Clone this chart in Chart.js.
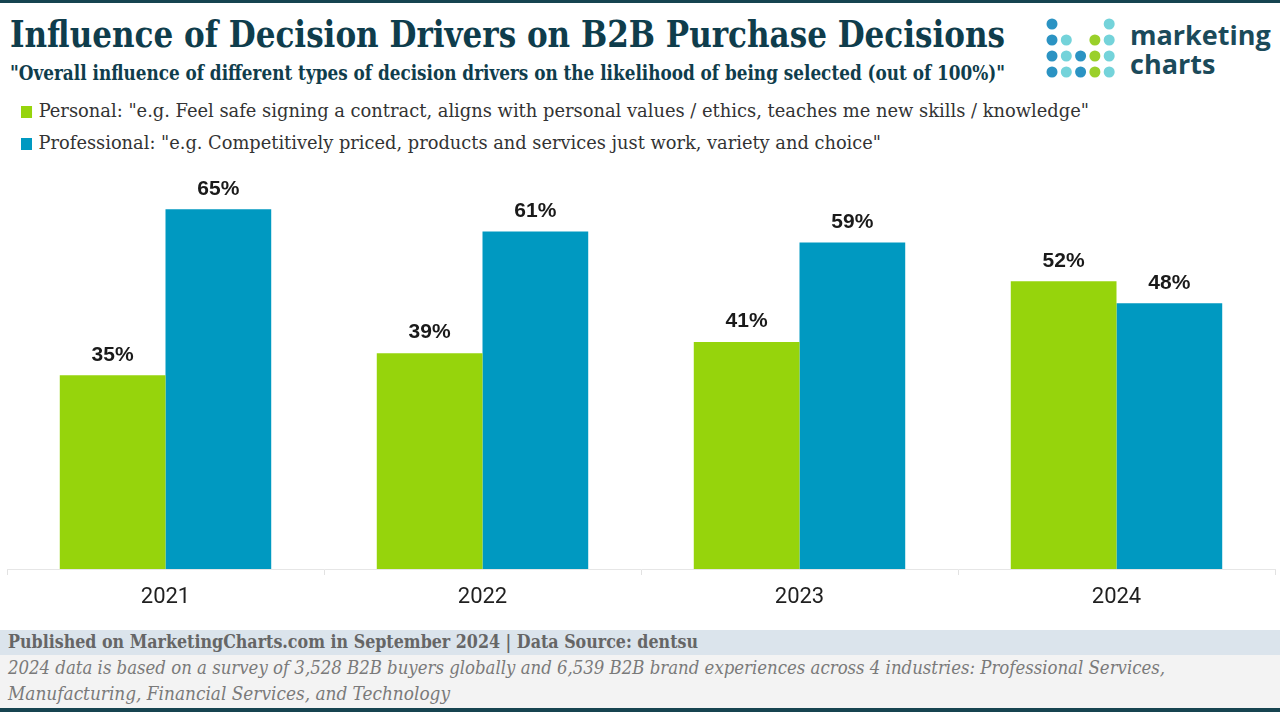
<!DOCTYPE html>
<html>
<head>
<meta charset="utf-8">
<script src="https://cdn.jsdelivr.net/npm/chart.js@4/dist/chart.umd.min.js"></script>
<style>
  body { margin: 0; background: #fff; }
  #page { position: relative; width: 1280px; height: 712px; overflow: hidden; background: #fff; }
  .topline { position: absolute; left: 0; top: 0; width: 1280px; height: 3px; background: #164450; }
  .botline { position: absolute; left: 0; top: 708px; width: 1280px; height: 4px; background: #164450; }
  .fit { position: absolute; white-space: nowrap; transform-origin: 0 0; }
  #title { left: 10px; top: 12px; font: bold 37px "DejaVu Serif Condensed", "DejaVu Serif", serif; color: #0f3d4c; }
  #subtitle { left: 10px; top: 61px; font: bold 20px "DejaVu Serif Condensed", "DejaVu Serif", serif; color: #0f3d4c; }
  .leg { position: absolute; left: 21px; font: 18px "DejaVu Serif Condensed", "DejaVu Serif", serif; color: #333; white-space: nowrap; }
  .leg i { display: inline-block; width: 10px; height: 12px; margin-right: 6px; vertical-align: -1px; }
  #chartBox { position: absolute; left: 0; top: 165px; width: 1280px; height: 450px; }
  .foot1 { position: absolute; left: 0; top: 630px; width: 1280px; height: 25px; background: #dbe4ec; }
  .foot2 { position: absolute; left: 0; top: 655px; width: 1280px; height: 53px; background: #f3f3f3; }
  #pub { left: 8px; top: 631px; font: bold 18px "DejaVu Serif Condensed", "DejaVu Serif", serif; color: #666; }
  #note1 { left: 8px; top: 657px; font: italic 18px "DejaVu Serif Condensed", "DejaVu Serif", serif; color: #7a7a7a; }
  #note2 { left: 8px; top: 683px; font: italic 18px "DejaVu Serif Condensed", "DejaVu Serif", serif; color: #7a7a7a; }
  #logo { position: absolute; left: 1040px; top: 10px; }
</style>
</head>
<body>
<div id="page">
  <div class="topline"></div>
  <div id="title" class="fit" data-w="995">Influence of Decision Drivers on B2B Purchase Decisions</div>
  <div id="subtitle" class="fit" data-w="995">"Overall influence of different types of decision drivers on the likelihood of being selected (out of 100%)"</div>
  <div id="leg1" class="leg fit" style="top:100px" data-w="1068"></div>
  <div id="leg2" class="leg fit" style="top:132px" data-w="860"></div>

  <svg id="logo" width="240" height="75">
    <g id="dots"></g>
    <text x="90" y="35" font-family="Open Sans, DejaVu Sans, sans-serif" font-weight="bold" font-size="27" fill="#1b4a5a">marketing</text>
    <text x="90" y="64" font-family="Open Sans, DejaVu Sans, sans-serif" font-weight="bold" font-size="27" fill="#1b4a5a">charts</text>
  </svg>

  <div id="chartBox"><canvas id="B2B_Chart"></canvas></div>

  <div class="foot1"></div>
  <div class="foot2"></div>
  <div id="pub" class="fit" data-w="690">Published on MarketingCharts.com in September 2024 | Data Source: dentsu</div>
  <div id="note1" class="fit" data-w="1157">2024 data is based on a survey of 3,528 B2B buyers globally and 6,539 B2B brand experiences across 4 industries: Professional Services,</div>
  <div id="note2" class="fit" data-w="442">Manufacturing, Financial Services, and Technology</div>
  <div class="botline"></div>
</div>

<script>
// data
const years = ["2021", "2022", "2023", "2024"];
const personal = [35, 39, 41, 52];
const professional = [65, 61, 59, 48];
const seriesNames = [
    'Personal: "e.g. Feel safe signing a contract, aligns with personal values / ethics, teaches me new skills / knowledge"',
    'Professional: "e.g. Competitively priced, products and services just work, variety and choice"'
];
const colors = ["#96d40c", "#0099c1"];

// legend (html)
document.getElementById("leg1").innerHTML = '<i style="background:' + colors[0] + '"></i>' + seriesNames[0];
document.getElementById("leg2").innerHTML = '<i style="background:' + colors[1] + '"></i>' + seriesNames[1];

// squeeze header/footer text to the widths in the picture
document.querySelectorAll(".fit").forEach(el => {
    const target = +el.dataset.w;
    const w = el.getBoundingClientRect().width;
    if (target && w) el.style.transform = "scaleX(" + (target / w) + ")";
});

// logo dots
const dotRows = [
    ["b", "", "", "", "t"],
    ["b", "t", "", "g", "t"],
    ["b", "t", "b", "g", "t"],
    ["b", "t", "b", "g", "t"]
];
const dotCol = { b: "#2b93c3", t: "#74d3da", g: "#9ad02a" };
let svgDots = "";
dotRows.forEach((row, r) => row.forEach((c, k) => {
    if (c) svgDots += '<circle cx="' + (12 + k * 14.3) + '" cy="' + (14 + r * 16) + '" r="5.5" fill="' + dotCol[c] + '"/>';
}));
document.getElementById("dots").innerHTML = svgDots;

// value labels above bars
const barLabels = {
    id: "barLabels",
    afterDatasetsDraw(chart) {
        const ctx = chart.ctx;
        ctx.save();
        ctx.font = "bold 21px 'Liberation Sans', Arial, sans-serif";
        ctx.fillStyle = "#1a1a1a";
        ctx.textAlign = "center";
        ctx.textBaseline = "bottom";
        chart.data.datasets.forEach((ds, i) => {
            chart.getDatasetMeta(i).data.forEach((bar, j) => {
                ctx.fillText(ds.data[j] + "%", bar.x, bar.y - 10);
            });
        });
        ctx.restore();
    }
};

var ctx1 = document.getElementById("B2B_Chart").getContext("2d");
var myChart1 = new Chart(ctx1, {
    type: "bar",
    data: {
        labels: years,
        datasets: [{
                label: "Personal",
                data: personal,
                backgroundColor: colors[0]
            },
            {
                label: "Professional",
                data: professional,
                backgroundColor: colors[1]
            }
        ]
    },
    options: {
        responsive: true,
        maintainAspectRatio: false,
        animation: false,
        layout: { padding: { left: 7, right: 5, top: 0, bottom: 0 } },
        categoryPercentage: 0.667,
        barPercentage: 1.0,
        plugins: {
            legend: { display: false },
            tooltip: { enabled: false }
        },
        scales: {
            x: {
                afterFit: s => { s.height = 46; },
                grid: { drawOnChartArea: false, drawTicks: true, tickLength: 6, color: "#e2e2e2" },
                border: { color: "#e6e6e6" },
                ticks: { color: "#1f1f1f", padding: 9, font: { family: "Roboto, 'Liberation Sans', sans-serif", size: 22 } }
            },
            y: {
                display: false,
                min: 0,
                max: 73
            }
        }
    },
    plugins: [barLabels]
});
</script>
</body>
</html>
